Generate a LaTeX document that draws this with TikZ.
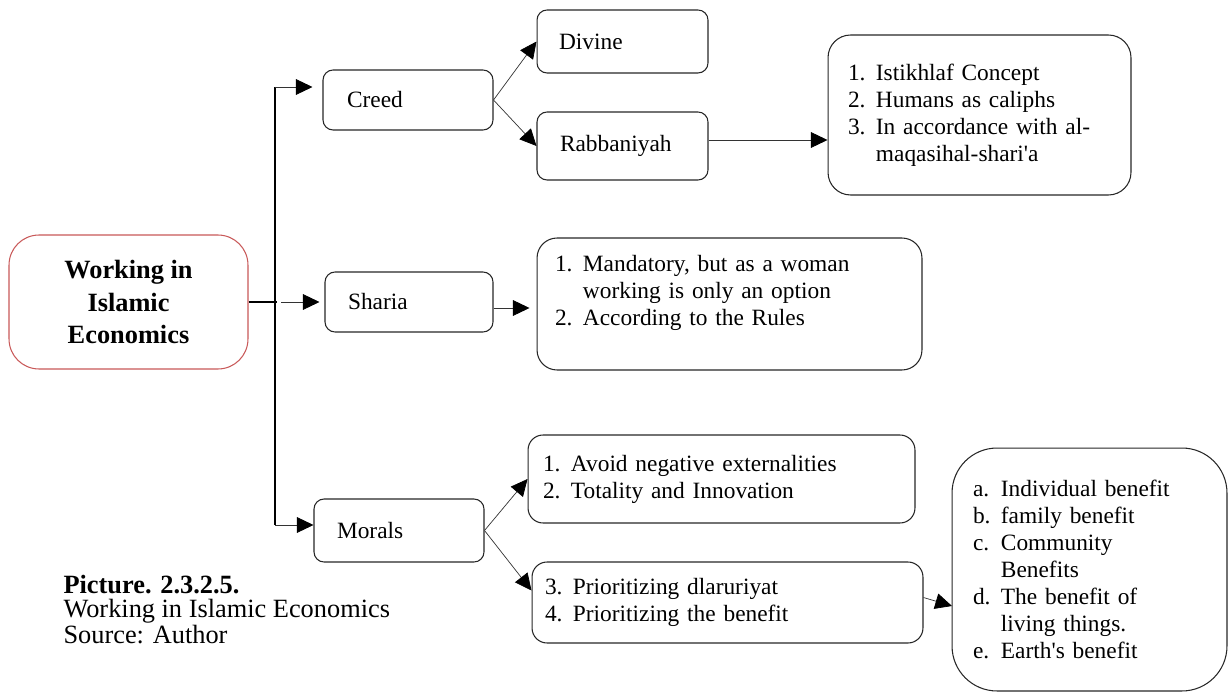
\documentclass[tikz,border=0pt]{standalone}
\usepackage{fontspec}
\setmainfont{Liberation Serif}
\usetikzlibrary{arrows.meta,calc}
\definecolor{workred}{RGB}{200,88,88}
\newcommand{\boxfont}{\fontsize{13.3}{15.3}\selectfont}
\newcommand{\capfont}{\fontsize{15}{13.6}\selectfont}
\newcommand{\itm}[1]{\makebox[15.9pt][l]{#1}}
\newcommand{\cont}{\hspace*{15.9pt}}
\tikzset{
  box/.style={draw=black!85,line width=0.6pt,font=\boxfont,align=left,inner ysep=0pt},
  link/.style={line width=0.4pt,draw=black!80}
}

\begin{document}
\begin{tikzpicture}[x=0.02cm,y=-0.02cm,line width=0.6pt,>={Triangle[length=9.5pt,width=9pt,color=black]}]
\useasboundingbox (0,0) rectangle (1229,692);
% ---------- main box ----------
\node[box,draw=workred,rounded corners=0.6cm,minimum width=4.78cm,minimum height=2.68cm,inner sep=0pt,align=center,font=\fontsize{15}{18.4}\selectfont\bfseries] (work) at (128.5,302) {Working in\\Islamic\\Economics};
% ---------- first level ----------
\node[box,rounded corners=0.2cm,minimum width=3.4cm,minimum height=1.2cm,inner xsep=0.48cm,text width=2.44cm] (creed) at (408,100) {Creed};
\node[box,rounded corners=0.2cm,minimum width=3.36cm,minimum height=1.2cm,inner xsep=0.46cm,text width=2.44cm] (sharia) at (409,302) {Sharia};
\node[box,rounded corners=0.2cm,minimum width=3.4cm,minimum height=1.26cm,inner xsep=0.46cm,text width=2.48cm] (morals) at (399,530.5) {Morals};
% ---------- creed branch ----------
\node[box,rounded corners=0.2cm,minimum width=3.42cm,minimum height=1.26cm,inner xsep=0.44cm,text width=2.54cm] (divine) at (622.5,41.5) {Divine};
\node[box,rounded corners=0.2cm,minimum width=3.42cm,minimum height=1.36cm,inner xsep=0.46cm,text width=2.5cm] (rabb) at (622.5,146) {Rabbaniyah};
\node[box,rounded corners=0.45cm,minimum width=6.06cm,minimum height=3.2cm,inner xsep=0.4cm,text width=5.26cm] (istikhlaf) at (979.5,115)
  {\itm{1.}Istikhlaf Concept\\\itm{2.}Humans as caliphs\\\itm{3.}In accordance with al-\\\cont maqasihal-shari\textquotesingle a};
% ---------- sharia branch ----------
\node[box,rounded corners=0.4cm,minimum width=7.7cm,minimum height=2.64cm,inner xsep=0.36cm,text width=6.98cm] (rules) at (729.5,304)
  {\itm{1.}Mandatory, but as a woman\\\cont working is only an option\\\itm{2.}According to the Rules\\~};
% ---------- morals branch ----------
\node[box,rounded corners=0.3cm,minimum width=7.74cm,minimum height=1.76cm,inner xsep=0.3cm,text width=7.14cm] (avoid) at (721.5,479)
  {\itm{1.}Avoid negative externalities\\\itm{2.}Totality and Innovation};
\node[box,rounded corners=0.3cm,minimum width=7.82cm,minimum height=1.62cm,inner xsep=0.26cm,text width=7.3cm] (prior) at (727.5,602.5)
  {\itm{3.}Prioritizing dlaruriyat\\\itm{4.}Prioritizing the benefit};
\node[box,rounded corners=0.9cm,minimum width=5.5cm,minimum height=4.86cm,inner xsep=0.42cm,text width=4.66cm] (benefit) at (1089.5,569.5)
  {\itm{a.}Individual benefit\\\itm{b.}family benefit\\\itm{c.}Community\\\cont Benefits\\\itm{d.}The benefit of\\\cont living things.\\\itm{e.}Earth\textquotesingle s benefit};
% ---------- caption ----------
\node[anchor=north west,inner sep=0pt,align=left,font=\capfont] (caption) at (63,575)
  {\textbf{Picture. 2.3.2.5.}\\Working in Islamic Economics\\Source: Author};
% ---------- trunk ----------
\coordinate (trunktop) at (275,87);
\coordinate (trunkbot) at (275,525);
\coordinate (hub) at (277,302);
\draw (trunktop) -- (trunkbot);
\draw (work.east) -- (hub);
\draw[link,->,shorten >=0.2cm] (trunktop) -- (trunktop -| creed.west);
\draw[link,->,shorten >=0.1cm] ([xshift=0.08cm]hub) -- (hub -| sharia.west);
\draw[link,->] (trunkbot) -- (trunkbot -| morals.west);
% creed -> divine / rabbaniyah -> list
\draw[link,->] (creed.east) -- (divine.west);
\draw[link,->] (creed.east) -- (rabb.west);
\draw[link,->] ([yshift=0.12cm]rabb.east) -- ([yshift=0.12cm]rabb.east -| istikhlaf.west);
% sharia -> list
\draw[link,->,shorten >=0.14cm] ([yshift=-0.12cm]sharia.east) -- ([yshift=-0.12cm]sharia.east -| rules.west);
% morals -> lists
\draw[link,->] (morals.east) -- (avoid.west);
\draw[link,->] (morals.east) -- ([yshift=0.24cm]prior.west);
\coordinate (benin) at (952,606);
\draw[link,->] ([yshift=0.1cm]prior.east) -- (benin);
\end{tikzpicture}
\end{document}
